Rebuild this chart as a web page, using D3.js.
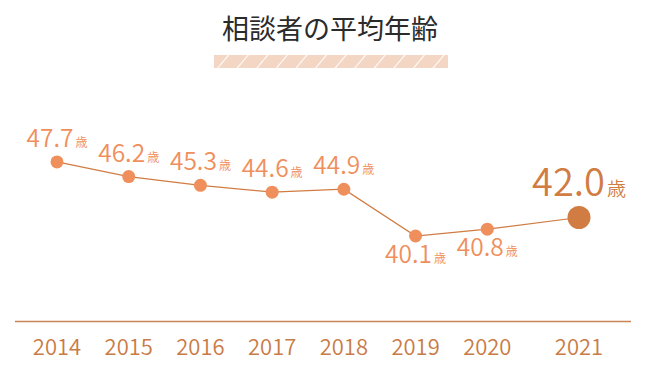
<!DOCTYPE html>
<html>
<head>
<meta charset="utf-8">
<script src="https://cdn.jsdelivr.net/npm/d3@7"></script>
<style>
    html, body { margin: 0; padding: 0; background: #fff; }
    svg { display: block; font-family: "Noto Sans CJK JP", "Noto Sans", sans-serif; }
</style>
</head>
<body>
<div id="chart"></div>
<script>
const title = "相談者の平均年齢"
const years = ["2014", "2015", "2016", "2017", "2018", "2019", "2020", "2021"]
const ages = [47.7, 46.2, 45.3, 44.6, 44.9, 40.1, 40.8, 42.0]
const labelBelow = ["2019", "2020"]
const unit = "歳"

const width = 660,
    height = 371,
    accent = "#ef8f5c",
    dark = "#d07c42",
    highlightGap = 20

let svg = d3.select("#chart")
    .append("svg")
    .attr("width", width)
    .attr("height", height)

// title + striped band
let defs = svg.append("defs")

let pattern = defs.append("pattern")
    .attr("id", "stripes")
    .attr("patternUnits", "userSpaceOnUse")
    .attr("width", 15)
    .attr("height", 15)
    .attr("patternTransform", "rotate(40)")

pattern.append("rect")
    .attr("width", 15)
    .attr("height", 15)
    .attr("fill", "#f4d6c4")

pattern.append("line")
    .attr("x1", 0).attr("y1", 0)
    .attr("x2", 0).attr("y2", 15)
    .attr("stroke", "#fff")
    .attr("stroke-width", 2)

svg.append("text")
    .attr("x", width / 2)
    .attr("y", 39)
    .attr("text-anchor", "middle")
    .attr("font-size", 27)
    .attr("fill", "#2b2b2b")
    .text(title)

svg.append("rect")
    .attr("x", 214)
    .attr("y", 55)
    .attr("width", 234)
    .attr("height", 13)
    .attr("fill", "url(#stripes)")

// scales
let xPoint = d3.scalePoint()
    .domain(years)
    .range([57, 559])

function x(year) {
    return xPoint(year) + (year === years[years.length - 1] ? highlightGap : 0)
}

let y = d3.scaleLinear()
    .domain([40, 48])
    .range([237, 159])

let data = years.map((year, i) => ({year: year, age: ages[i], last: i === years.length - 1}))

// axis
let xAxis = d3.axisBottom(xPoint)
    .tickSize(0)
    .tickPadding(18)

let axisG = svg.append("g")
    .attr("transform", "translate(0,321)")
    .call(xAxis)

axisG.select(".domain").remove()

axisG.selectAll(".tick")
    .attr("transform", d => "translate(" + x(d) + ",0)")

axisG.selectAll(".tick text")
    .attr("font-family", "\"Noto Sans CJK JP\", sans-serif")
    .attr("font-size", 22)
    .attr("font-weight", 350)
    .attr("fill", "#c97b46")

svg.append("line")
    .attr("x1", 15)
    .attr("x2", 631)
    .attr("y1", 321.5)
    .attr("y2", 321.5)
    .attr("stroke", "#c98455")
    .attr("stroke-width", 1.3)

// line
let line = d3.line()
    .x(d => x(d.year))
    .y(d => y(d.age))

svg.append("path")
    .datum(data)
    .attr("d", line)
    .attr("fill", "none")
    .attr("stroke", dark)
    .attr("stroke-width", 1.2)

svg.selectAll(".dot")
    .data(data)
    .enter()
    .append("circle")
    .attr("class", "dot")
    .attr("cx", d => x(d.year))
    .attr("cy", d => y(d.age))
    .attr("r", d => d.last ? 11.5 : 6.5)
    .attr("fill", d => d.last ? dark : accent)

// labels
let labels = svg.selectAll(".label")
    .data(data)
    .enter()
    .append("text")
    .attr("class", "label")
    .attr("x", d => x(d.year))
    .attr("y", function(d) {
        if (d.last) return y(d.age) - 22
        return labelBelow.includes(d.year) ? y(d.age) + 27 : y(d.age) - 15
    })
    .attr("text-anchor", "middle")
    .attr("fill", d => d.last ? dark : accent)
    .attr("font-weight", 350)

labels.append("tspan")
    .attr("font-size", d => d.last ? 38 : 24.5)
    .text(d => d.age.toFixed(1))

labels.append("tspan")
    .attr("font-size", d => d.last ? 19 : 12)
    .attr("dx", 2)
    .text(unit)
</script>
</body>
</html>
